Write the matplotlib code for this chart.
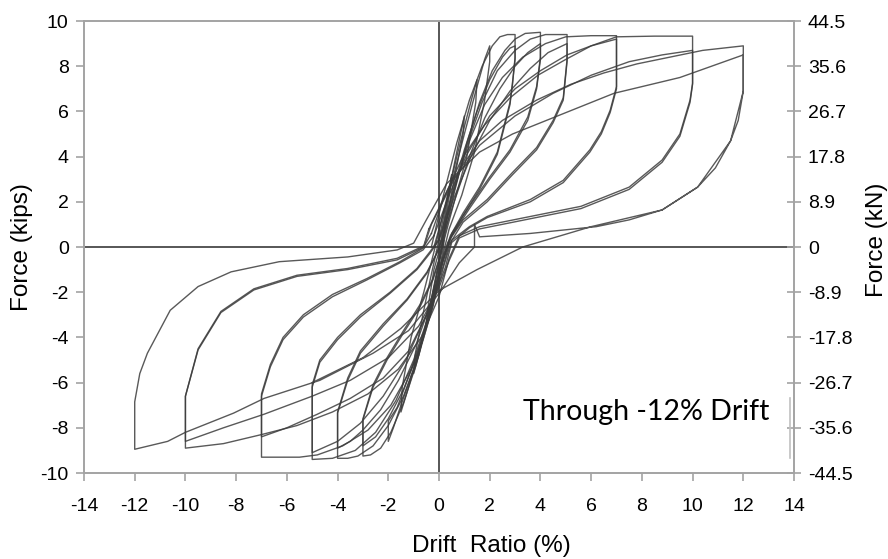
import matplotlib
matplotlib.use("Agg")
import matplotlib.pyplot as plt
from matplotlib.lines import Line2D

plt.rcParams["font.family"] = ["Liberation Sans", "DejaVu Sans"]

# hysteresis record, one list per drift cycle: (drift ratio %, force kips)
cycle_05 = [(0.0, -0.2), (0.25, 1.5), (0.5, 3.2), (0.45, 2.6), (0.2, 0.8), (0.0, -0.6),
            (-0.25, -2.0), (-0.5, -3.4), (-0.45, -2.8), (-0.2, -1.0), (0.0, -0.2)]
cycle_10 = [(-0.1, -0.2), (0.3, 2.0), (0.7, 4.2), (1.0, 5.8), (0.95, 5.0), (0.6, 3.0),
            (0.25, 1.0), (0.0, -0.8), (-0.5, -3.4), (-0.8, -4.8), (-1.0, -5.6),
            (-0.95, -4.8), (-0.6, -2.8), (-0.3, -1.2), (-0.1, -0.2)]
cycle_15 = [(-0.15, 0.0), (0.4, 2.6), (0.9, 4.9), (1.3, 6.6), (1.5, 7.4), (1.45, 6.4),
            (1.1, 4.0), (0.6, 2.0), (0.2, 0.3), (-0.2, -1.8), (-0.7, -4.3), (-1.2, -6.2),
            (-1.5, -7.3), (-1.45, -6.2), (-1.1, -4.0), (-0.6, -2.0), (-0.15, 0.0)]
cycle_20 = [(-0.2, 0.0), (0.4, 2.4), (1.0, 5.0), (1.5, 7.1), (1.8, 8.3), (2.0, 8.9),
            (2.0, 8.2), (1.8, 6.5), (1.4, 4.2), (0.9, 2.3), (0.4, 0.8), (0.1, -0.6),
            (-0.4, -3.0), (-1.0, -5.4), (-1.5, -7.0), (-1.8, -8.0), (-2.0, -8.6),
            (-2.0, -7.7), (-1.65, -7.1), (-1.15, -5.6), (-0.63, -4.1), (-0.24, -2.65),
            (0.04, -1.15), (0.2, 0.3)]
cycle_30a = [(-0.3, 0.0), (0.2, 2.4), (0.7, 4.6), (1.2, 6.5), (1.7, 8.0), (2.1, 8.9),
             (2.4, 9.3), (2.7, 9.4), (3.0, 9.4), (3.0, 8.4), (2.9, 7.2), (2.8, 6.4),
             (2.3, 4.2), (1.6, 2.65), (0.95, 1.5), (0.45, 0.5), (0.1, -0.6), (-0.4, -3.0),
             (-0.9, -5.2), (-1.4, -6.9), (-1.9, -8.2), (-2.3, -8.9), (-2.7, -9.2),
             (-3.0, -9.25), (-3.0, -7.65), (-2.6, -6.2), (-2.05, -5.0), (-1.4, -3.8),
             (-0.75, -2.65), (-0.24, -1.46), (0.04, -0.44), (0.15, 0.3)]
cycle_30b = [(0.15, 0.3), (0.5, 2.3), (1.0, 4.3), (1.5, 6.0), (2.0, 7.4), (2.5, 8.4),
             (2.8, 8.8), (3.0, 8.9), (3.0, 8.3), (2.8, 6.3), (2.3, 4.1), (1.6, 2.55),
             (0.95, 1.4), (0.45, 0.4), (0.15, -0.6), (-0.3, -2.7), (-0.8, -4.6),
             (-1.4, -6.3), (-2.0, -7.6), (-2.5, -8.4), (-3.0, -8.8), (-3.0, -7.6),
             (-2.6, -6.1), (-2.05, -4.9), (-1.4, -3.7), (-0.75, -2.55), (-0.24, -1.4),
             (0.04, -0.4), (0.2, 0.4)]
cycle_40a = [(0.2, 0.4), (0.6, 2.4), (1.1, 4.6), (1.6, 6.4), (2.1, 7.8), (2.6, 8.7),
             (3.0, 9.2), (3.4, 9.45), (4.0, 9.5), (4.0, 8.4), (3.85, 7.1), (3.5, 5.75),
             (2.8, 4.3), (2.0, 3.1), (1.2, 1.8), (0.5, 0.6), (0.15, -0.6), (-0.3, -2.8),
             (-0.8, -4.8), (-1.4, -6.6), (-2.0, -7.9), (-2.6, -8.8), (-3.2, -9.25),
             (-3.6, -9.35), (-4.0, -9.35), (-4.0, -7.35), (-3.6, -5.9), (-3.1, -4.7),
             (-2.2, -3.5), (-1.26, -2.35), (-0.47, -1.15), (-0.08, -0.27), (0.1, 0.3)]
cycle_40b = [(0.1, 0.3), (0.6, 2.0), (1.2, 4.0), (1.8, 5.7), (2.4, 7.0), (3.0, 8.0),
             (3.5, 8.6), (4.0, 9.0), (4.0, 8.3), (3.85, 7.0), (3.5, 5.6), (2.8, 4.2),
             (2.0, 3.0), (1.2, 1.7), (0.5, 0.5), (0.2, -0.5), (-0.3, -2.4), (-0.9, -4.3),
             (-1.6, -5.9), (-2.3, -7.2), (-3.0, -8.1), (-3.5, -8.6), (-4.0, -8.9),
             (-4.0, -7.3), (-3.6, -5.8), (-3.1, -4.6), (-2.2, -3.4), (-1.26, -2.3),
             (-0.47, -1.1), (-0.08, -0.25), (0.1, 0.3)]
cycle_50a = [(0.1, 0.3), (0.6, 2.5), (1.1, 4.5), (1.7, 6.4), (2.3, 7.8), (3.0, 8.7),
             (3.6, 9.2), (4.2, 9.4), (5.05, 9.4), (5.05, 8.3), (4.9, 6.6), (4.5, 5.6),
             (3.85, 4.4), (2.9, 3.3), (1.9, 2.1), (0.95, 1.2), (0.35, 0.2), (0.1, -0.8),
             (-0.4, -3.0), (-1.0, -5.0), (-1.7, -6.8), (-2.5, -8.2), (-3.3, -9.0),
             (-4.2, -9.35), (-5.0, -9.4), (-5.0, -6.2), (-4.7, -5.1), (-4.0, -4.1),
             (-3.1, -3.1), (-1.93, -2.05), (-0.87, -1.0), (-0.35, -0.27), (0.0, 0.3)]
cycle_50b = [(0.0, 0.3), (0.6, 2.2), (1.3, 4.1), (2.0, 5.6), (2.8, 6.9), (3.6, 7.9),
             (4.3, 8.6), (5.05, 9.0), (5.05, 8.2), (4.9, 6.5), (4.5, 5.5), (3.85, 4.3),
             (2.9, 3.2), (1.9, 2.0), (0.95, 1.1), (0.4, 0.1), (0.15, -0.9), (-0.5, -3.0),
             (-1.3, -5.0), (-2.2, -6.6), (-3.1, -7.8), (-4.0, -8.6), (-5.0, -9.1),
             (-5.0, -6.1), (-4.7, -5.0), (-4.0, -4.0), (-3.1, -3.0), (-1.93, -2.0),
             (-0.87, -0.95), (-0.35, -0.2), (0.0, 0.35)]
cycle_70a = [(0.0, 0.35), (0.6, 2.6), (1.2, 4.7), (1.8, 6.3), (2.5, 7.5), (3.3, 8.4),
             (4.2, 9.0), (5.0, 9.3), (6.0, 9.35), (7.0, 9.35), (7.0, 7.1), (6.75, 6.05),
             (6.4, 5.1), (5.95, 4.3), (4.9, 2.95), (3.6, 2.1), (1.9, 1.35), (1.2, 0.9),
             (0.5, 0.3), (0.2, -0.8), (-0.4, -3.2), (-1.1, -5.4), (-1.9, -7.0),
             (-2.8, -8.1), (-3.8, -8.8), (-4.8, -9.2), (-5.5, -9.3), (-7.0, -9.3),
             (-7.0, -6.6), (-6.65, -5.3), (-6.15, -4.1), (-5.35, -3.1), (-4.2, -2.2),
             (-2.85, -1.46), (-1.54, -0.7), (-0.63, -0.13), (-0.2, 0.5)]
cycle_70b = [(-0.2, 0.5), (0.4, 2.3), (1.1, 4.1), (2.0, 5.8), (3.0, 7.0), (4.0, 7.8),
             (5.05, 8.5), (6.0, 8.9), (7.0, 9.2), (7.0, 7.0), (6.75, 5.95), (6.4, 5.0),
             (5.95, 4.2), (4.9, 2.85), (3.6, 2.0), (1.9, 1.3), (1.2, 0.85), (0.5, 0.2),
             (0.25, -0.9), (-0.4, -2.8), (-1.2, -4.6), (-2.2, -5.8), (-3.5, -6.7),
             (-4.8, -7.4), (-6.0, -8.0), (-7.0, -8.4), (-7.0, -6.5), (-6.65, -5.2),
             (-6.15, -4.0), (-5.35, -3.0), (-4.2, -2.1), (-2.85, -1.4), (-1.54, -0.65),
             (-0.63, -0.05), (-0.3, 0.6)]
cycle_100a = [(-0.3, 0.6), (0.2, 2.2), (0.9, 3.9), (1.8, 5.4), (2.8, 6.6), (3.9, 7.6),
              (5.0, 8.3), (6.0, 8.9), (7.0, 9.3), (8.5, 9.33), (10.0, 9.33), (10.0, 7.25),
              (9.9, 6.5), (9.5, 5.0), (8.8, 3.85), (7.5, 2.65), (5.6, 1.8), (3.6, 1.35),
              (1.6, 0.9), (0.8, 0.5), (0.4, -0.5), (0.0, -2.2), (-0.7, -4.0), (-1.6, -5.4),
              (-2.8, -6.5), (-4.2, -7.3), (-5.6, -7.9), (-7.0, -8.3), (-8.5, -8.7),
              (-10.0, -8.9), (-10.0, -6.6), (-9.5, -4.55), (-8.6, -2.9), (-7.3, -1.9),
              (-5.6, -1.3), (-3.6, -1.0), (-1.65, -0.57), (-0.6, 0.0)]
cycle_100b = [(-0.6, 0.0), (-0.3, 1.0), (0.6, 3.0), (1.6, 4.5), (3.0, 5.8), (4.5, 6.8),
              (6.0, 7.6), (7.5, 8.2), (8.8, 8.5), (10.0, 8.7), (10.0, 7.2), (9.9, 6.4),
              (9.5, 4.9), (8.8, 3.75), (7.5, 2.55), (5.6, 1.7), (3.6, 1.25), (1.6, 0.8),
              (0.8, 0.4), (0.4, -0.6), (0.0, -1.8), (-0.8, -3.5), (-2.0, -4.9),
              (-3.5, -5.9), (-5.0, -6.6), (-6.9, -7.4), (-8.5, -8.0), (-10.0, -8.6),
              (-10.0, -6.6), (-9.5, -4.5), (-8.6, -2.85), (-7.3, -1.85), (-5.6, -1.25),
              (-3.6, -0.95), (-1.65, -0.5), (-0.6, 0.05), (-0.4, 0.8)]
cycle_120 = [(-0.4, 0.8), (0.5, 2.9), (1.6, 4.7), (2.5, 5.6), (3.85, 6.5), (5.2, 7.2),
             (6.5, 7.7), (7.8, 8.1), (9.1, 8.4), (10.4, 8.7), (12.0, 8.9), (12.0, 6.9),
             (11.8, 5.6), (11.5, 4.7), (10.9, 3.5), (10.2, 2.65), (8.8, 1.64), (7.5, 1.2),
             (6.2, 0.9), (3.6, 0.6), (1.6, 0.45), (1.4, 1.0), (1.4, 0.0), (0.8, -0.7),
             (0.04, -2.0), (-1.2, -3.7), (-2.6, -4.7), (-4.7, -5.9), (-6.9, -6.7),
             (-8.1, -7.35), (-10.0, -8.2), (-10.7, -8.6), (-12.0, -8.95), (-12.0, -6.85),
             (-11.8, -5.6), (-11.5, -4.7), (-10.6, -2.8), (-9.5, -1.75), (-8.2, -1.1),
             (-6.3, -0.65), (-3.6, -0.44), (-1.65, -0.13), (-1.0, 0.17), (-0.5, 1.2),
             (0.3, 2.8), (1.6, 4.2), (2.9, 5.0), (4.9, 5.9), (6.9, 6.8), (9.5, 7.5),
             (12.0, 8.5), (12.0, 6.9), (11.5, 4.7), (10.2, 2.65), (8.8, 1.64),
             (6.0, 0.9), (3.3, 0.0), (1.5, -1.0), (0.04, -1.9), (-1.5, -3.6),
             (-3.0, -4.9), (-5.0, -6.0)]

cycles = [cycle_05, cycle_10, cycle_15, cycle_20, cycle_30a, cycle_30b, cycle_40a,
          cycle_40b, cycle_50a, cycle_50b, cycle_70a, cycle_70b, cycle_100a,
          cycle_100b, cycle_120]

x_ticks = [-14, -12, -10, -8, -6, -4, -2, 0, 2, 4, 6, 8, 10, 12, 14]
kip_ticks = [-10, -8, -6, -4, -2, 0, 2, 4, 6, 8, 10]
kn_ticks = [-44.5, -35.6, -26.7, -17.8, -8.9, 0, 8.9, 17.8, 26.7, 35.6, 44.5]

frame = "#a3a3a3"

fig = plt.figure(figsize=(8.88, 5.59), dpi=100)
ax = fig.add_axes([84 / 888, 1 - 473 / 559, 710 / 888, 452 / 559])

for c in cycles:
    d, f = zip(*c)
    ax.plot(d, f, color="#3c3c3c", lw=1.0, alpha=0.85, solid_joinstyle="round")

ax.axhline(0, color="#3a3a3a", lw=1.2)
ax.axvline(0, color="#3a3a3a", lw=1.2)

ax.set_xlim(-14, 14)
ax.set_ylim(-10, 10)
ax.set_xticks(x_ticks, labels=[str(v) for v in x_ticks])
ax.set_yticks(kip_ticks, labels=[str(v) for v in kip_ticks])
ax.tick_params(axis="both", colors=frame, labelcolor="black", labelsize=14,
               length=6, width=1.2)
ax.tick_params(axis="x", pad=12)
ax.tick_params(axis="y", pad=5)
for s in ax.spines.values():
    s.set_color(frame)
    s.set_linewidth(1.4)

ax2 = ax.twinx()
ax2.set_ylim(-44.5, 44.5)
ax2.set_yticks(kn_ticks, labels=[f"{v:g}" for v in kn_ticks])
ax2.tick_params(axis="y", direction="inout", colors=frame, labelcolor="black",
                labelsize=14, length=10, width=1.2, pad=5)
for s in ax2.spines.values():
    s.set_visible(False)

fig.text(22 / 888, 1 - 247 / 559, "Force (kips)", rotation=90, fontsize=17.5,
         ha="center", va="center")
fig.text(877 / 888, 1 - 240 / 559, "Force (kN)", rotation=90, fontsize=17.5,
         ha="center", va="center")
fig.text(491 / 888, 1 - 546 / 559, "Drift  Ratio (%)", fontsize=17.5,
         ha="center", va="center")
fig.text(523 / 888, 1 - 420 / 559, "Through -12% Drift", fontsize=20.5,
         family=["Lato", "DejaVu Sans"], ha="left", va="baseline")
fig.add_artist(Line2D([790 / 888, 790 / 888], [1 - 398 / 559, 1 - 458 / 559],
                      color="#c0c0c0", lw=1.2))

fig.savefig("out.png", dpi=100)
